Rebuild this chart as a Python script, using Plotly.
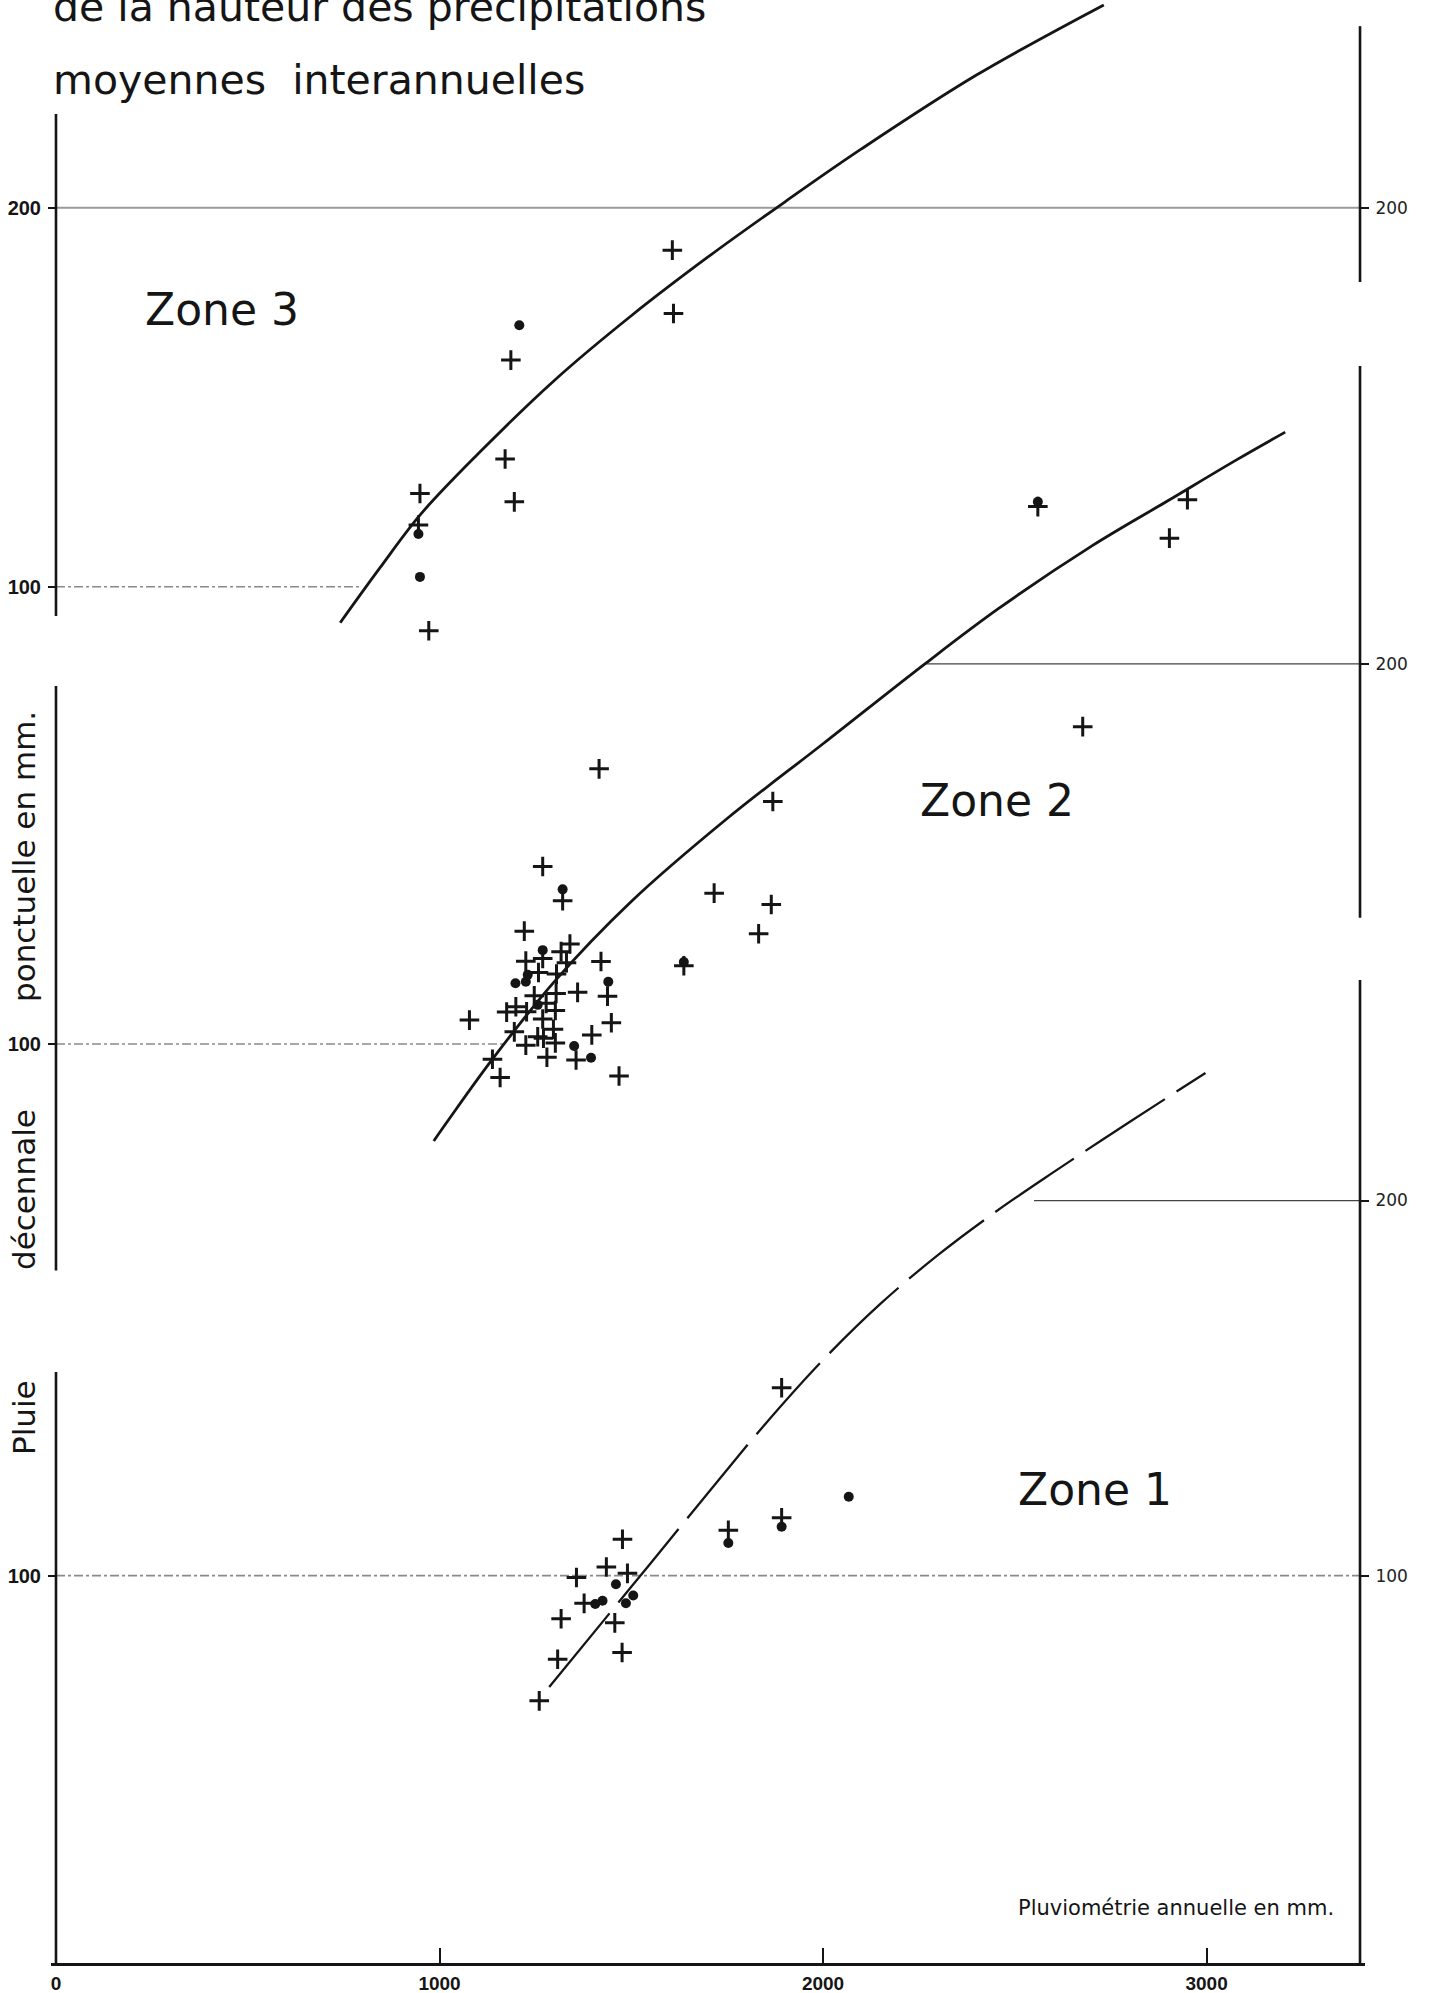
import plotly.graph_objects as go

# ---------------- data (x: annual rainfall mm, y: decennial point rainfall mm) ----------------
# Zone 3
z3_curve_x = [741, 844, 949, 1100, 1300, 1500, 1700, 1900, 2100, 2400, 2732]
z3_curve_y = [90.5, 104.9, 118.9, 135.0, 154.5, 171.5, 187.0, 201.5, 215.5, 235.0, 253.5]
z3_cross_x = [1607, 1610, 1186, 1171, 1195, 949, 945, 972]
z3_cross_y = [188.8, 172.1, 159.8, 133.7, 122.4, 124.6, 116.3, 88.4]
z3_dot_x = [1208, 945, 949]
z3_dot_y = [169.0, 113.9, 102.6]

# Zone 2
z2_curve_x = [985, 1026, 1138, 1300, 1500, 1746, 2000, 2269, 2458, 2700, 2900, 3078, 3205]
z2_curve_y = [74.5, 80.4, 96.0, 116.5, 137.5, 159.0, 179.0, 200.3, 214.6, 231.0, 243.0, 253.7, 261.0]
z2_cross_x = [2560, 2950, 2903, 2677, 1416, 1869, 1716, 1865, 1832, 1637,
              1269, 1321, 1221, 1340, 1317, 1225, 1331, 1421, 1258, 1305,
              1438, 1360, 1247, 1278, 1304, 1199, 1175, 1227, 1302, 1269,
              1078, 1448, 1195, 1256, 1271, 1297, 1302, 1397, 1225, 1280,
              1356, 1138, 1158, 1468, 1269]
z2_cross_y = [241.4, 243.2, 233.1, 183.5, 172.4, 163.8, 139.7, 136.7, 129.0, 120.6,
              146.7, 137.7, 129.7, 126.3, 124.3, 121.8, 121.4, 121.7, 118.8, 118.4,
              112.6, 113.6, 112.7, 110.7, 113.3, 109.8, 108.4, 108.5, 108.8, 106.6,
              106.3, 105.6, 103.2, 101.9, 101.5, 103.9, 100.3, 102.4, 99.7, 96.5,
              95.8, 96.0, 91.2, 91.6, 122.5]
z2_dot_x = [2560, 1637, 1321, 1269, 1230, 1225, 1198, 1440, 1256, 1351, 1395]
z2_dot_y = [242.7, 121.6, 140.7, 124.7, 118.2, 116.4, 116.0, 116.4, 110.3, 99.5, 96.4]

# Zone 1
z1_curve_x = [1286, 1500, 1700, 1850, 2000, 2150, 2300, 2450, 2600, 2800, 2997]
z1_curve_y = [70.3, 97.0, 122.0, 140.5, 157.5, 172.5, 185.5, 197.0, 207.5, 221.0, 234.0]
z1_cross_x = [1477, 1435, 1357, 1490, 1377, 1317, 1457, 1308, 1476, 1260, 1753, 1892, 1892]
z1_cross_y = [109.7, 102.3, 99.5, 100.6, 92.6, 88.5, 87.4, 77.7, 79.5, 66.6, 112.1, 115.4, 150.1]
z1_dot_x = [1460, 1505, 1486, 1406, 1425, 1753, 1892, 2067]
z1_dot_y = [97.7, 94.7, 92.6, 92.4, 93.3, 108.7, 113.0, 121.0]

x_ticks = [0, 1000, 2000, 3000]
x_ticklabels = ["0", "1000", "2000", "3000"]

# ---------------- figure ----------------
W, H = 1432, 1993
ML, MR, MT, MB = 51, 67, 0, 30
X_RANGE = [-13.0, 3413.0]
X_RIGHT = 3400
Y3_RANGE = [-263.1, 254.8]
Y2_RANGE = [-141.8, 374.7]
Y1_RANGE = [-3.3, 520.1]

INK = "#151515"
fig = go.Figure()

def add_zone(cx, cy, xs, ys, dx, dy, yax, dash="solid", width=2.8):
    fig.add_trace(go.Scatter(x=cx, y=cy, yaxis=yax, mode="lines",
                             line=dict(color=INK, width=width, dash=dash, shape="spline", smoothing=1.0),
                             hoverinfo="skip", showlegend=False))
    fig.add_trace(go.Scatter(x=xs, y=ys, yaxis=yax, mode="markers",
                             marker=dict(symbol="cross-thin", size=14, line=dict(color=INK, width=3)),
                             hoverinfo="skip", showlegend=False))
    fig.add_trace(go.Scatter(x=dx, y=dy, yaxis=yax, mode="markers",
                             marker=dict(symbol="circle", size=10, color=INK),
                             hoverinfo="skip", showlegend=False))

add_zone(z3_curve_x, z3_curve_y, z3_cross_x, z3_cross_y, z3_dot_x, z3_dot_y, "y")
add_zone(z2_curve_x, z2_curve_y, z2_cross_x, z2_cross_y, z2_dot_x, z2_dot_y, "y2")
add_zone(z1_curve_x, z1_curve_y, z1_cross_x, z1_cross_y, z1_dot_x, z1_dot_y, "y3",
         dash="95px,14px", width=2.3)
for ya in ["y4", "y5", "y6"]:
    fig.add_trace(go.Scatter(x=[None], y=[None], yaxis=ya, mode="lines",
                             hoverinfo="skip", showlegend=False))

shapes = []
def vseg(yref, x, y0, y1):
    shapes.append(dict(type="line", xref="x", yref=yref, x0=x, x1=x, y0=y0, y1=y1,
                       line=dict(color=INK, width=2.6), layer="above"))
def hline(yref, y, x0, x1, color, width, dash):
    shapes.append(dict(type="line", xref="x", yref=yref, x0=x0, x1=x1, y0=y, y1=y,
                       line=dict(color=color, width=width, dash=dash), layer="below"))

# broken left axis
vseg("y", 0, 224.7, 92.3)
vseg("y2", 0, 194.2, 40.4)
vseg("y3", 0, 154.3, -6)
# broken right axis
vseg("y", X_RIGHT, 247.9, 180.4)
vseg("y2", X_RIGHT, 278.4, 133.2)
vseg("y3", X_RIGHT, 258.8, -6)

# reference levels
hline("y", 200, 0, X_RIGHT, "#9a9a9a", 2, "solid")
hline("y", 100, 0, 790, "#8a8a8a", 1.6, "dashdot")
hline("y2", 100, 0, 1169, "#8a8a8a", 1.6, "dashdot")
hline("y2", 200, 2269, X_RIGHT, "#444444", 1.3, "solid")
hline("y3", 100, 0, X_RIGHT, "#8a8a8a", 1.6, "dashdot")
hline("y3", 200, 2550, X_RIGHT, "#444444", 1.3, "solid")

plot_w = W - ML - MR
plot_h = H - MT - MB
def px(xp):
    return (xp - ML) / plot_w
def py(yp):
    return 1 - (yp - MT) / plot_h

left_pos = px(56)
right_pos = px(1360)

hand = "DejaVu Sans"
def ann(text, x, y, size, xanchor="center", angle=0):
    return dict(text=text, x=x, y=y, xref="paper", yref="paper", showarrow=False,
                xanchor=xanchor, yanchor="middle", textangle=angle,
                font=dict(family=hand, size=size, color=INK))

annotations = [
    ann("de la hauteur des précipitations", px(51), py(7), 41, xanchor="left"),
    ann("moyennes  interannuelles", px(51), py(80), 41, xanchor="left"),
    ann("Zone 3", px(222), py(309), 44),
    ann("Zone 2", px(997), py(800), 44),
    ann("Zone 1", px(1095), py(1489), 44),
    ann("Pluie", px(24), py(1418), 31, angle=-90),
    ann("décennale", px(24), py(1190), 31, angle=-90),
    ann("ponctuelle en mm.", px(24), py(857), 31, angle=-90),
    ann("Pluviométrie annuelle en mm.", px(1336), py(1908), 21, xanchor="right"),
]

left_tickfont = dict(family="Liberation Sans", size=20, color=INK, weight="bold")
right_tickfont = dict(family="DejaVu Sans", size=17, color="#222222")

def yax(rng, vals, side, pos, font, overlay=True):
    d = dict(range=rng, tickvals=vals, ticktext=[str(v) for v in vals], side=side,
             anchor="free", position=pos, showgrid=False, zeroline=False, showline=False,
             ticks="outside", ticklen=8, tickwidth=2, tickcolor=INK, tickfont=font,
             ticklabelstandoff=3, fixedrange=True)
    if overlay:
        d["overlaying"] = "y"
    return d

fig.update_layout(
    width=W, height=H,
    margin=dict(l=ML, r=MR, t=MT, b=MB),
    paper_bgcolor="white", plot_bgcolor="white",
    xaxis=dict(range=X_RANGE, tickvals=x_ticks, ticktext=x_ticklabels, showgrid=False,
               zeroline=False, showline=True, linecolor=INK, linewidth=2.5,
               ticks="inside", ticklen=15, tickwidth=2, tickcolor=INK,
               tickfont=dict(family="Liberation Sans", size=19, color=INK, weight="bold"),
               ticklabelstandoff=1, fixedrange=True),
    yaxis=yax(Y3_RANGE, [100, 200], "left", left_pos, left_tickfont, overlay=False),
    yaxis2=yax(Y2_RANGE, [100], "left", left_pos, left_tickfont),
    yaxis3=yax(Y1_RANGE, [100], "left", left_pos, left_tickfont),
    yaxis4=yax(Y3_RANGE, [200], "right", right_pos, right_tickfont),
    yaxis5=yax(Y2_RANGE, [200], "right", right_pos, right_tickfont),
    yaxis6=yax(Y1_RANGE, [100, 200], "right", right_pos, right_tickfont),
    shapes=shapes,
    annotations=annotations,
    showlegend=False,
)

fig.write_html("out.html")
